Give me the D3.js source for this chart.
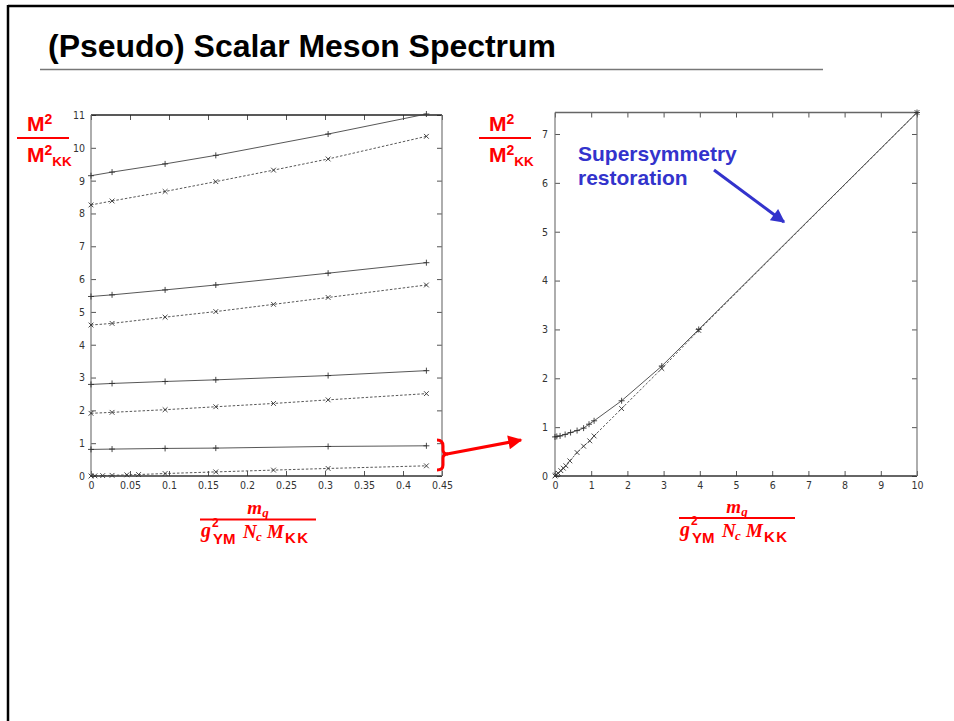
<!DOCTYPE html>
<html>
<head>
<meta charset="utf-8">
<script src="https://cdn.jsdelivr.net/npm/d3@7"></script>
<style>
  html, body { margin: 0; padding: 0; background: #fff; }
  svg { display: block; }
  .tick text { font-family: "Liberation Sans Narrow", "DejaVu Sans Condensed", "Liberation Sans", sans-serif; font-stretch: condensed; font-size: 10.5px; fill: #333; }
  .tick line { stroke: #555; stroke-width: 1; }
</style>
</head>
<body>
<svg id="chart" width="954" height="721"></svg>
<script>
// ---------------- DATA ----------------
const titleText = "(Pseudo) Scalar Meson Spectrum";

// Left panel (small quark mass)
const leftXTicks = [0, 0.05, 0.1, 0.15, 0.2, 0.25, 0.3, 0.35, 0.4, 0.45];
const leftYTicks = [0, 1, 2, 3, 4, 5, 6, 7, 8, 9, 10, 11];
const leftXSolid = [0, 0.027, 0.095, 0.16, 0.304, 0.43];
const leftXDotted = [0, 0.027, 0.095, 0.16, 0.234, 0.304, 0.43];
const leftXLow = [0, 0.005, 0.015, 0.027, 0.046, 0.061, 0.095, 0.16, 0.234, 0.304, 0.43];
const scalar1 = [9.15, 9.26, 9.51, 9.77, 10.42, 11.03];
const scalar2 = [5.47, 5.52, 5.67, 5.82, 6.18, 6.50];
const scalar3 = [2.79, 2.82, 2.88, 2.93, 3.06, 3.21];
const scalar4 = [0.81, 0.82, 0.84, 0.85, 0.90, 0.92];
const pseudo1 = [8.26, 8.38, 8.67, 8.97, 9.32, 9.66, 10.35];
const pseudo2 = [4.60, 4.65, 4.84, 5.01, 5.23, 5.44, 5.82];
const pseudo3 = [1.91, 1.94, 2.02, 2.11, 2.21, 2.32, 2.51];
const pseudo4 = [0, 0.005, 0.012, 0.02, 0.035, 0.045, 0.075, 0.125, 0.18, 0.23, 0.31];

// Right panel (large quark mass, lowest states)
const rightXTicks = [0, 1, 2, 3, 4, 5, 6, 7, 8, 9, 10];
const rightYTicks = [0, 1, 2, 3, 4, 5, 6, 7];
const rightYMax = 7.44;
const rightXScalar = [0, 0.05, 0.14, 0.28, 0.43, 0.61, 0.79, 0.94, 1.08, 1.84, 2.95, 3.97, 10];
const rightScalar  = [0.80, 0.81, 0.82, 0.85, 0.89, 0.93, 0.98, 1.06, 1.13, 1.54, 2.25, 3.0, 7.44];
const rightXPseudo = [0, 0.02, 0.09, 0.16, 0.23, 0.30, 0.41, 0.61, 0.79, 0.96, 1.08, 1.84, 2.95, 3.97, 10];
const rightPseudo  = [0, 0.02, 0.055, 0.11, 0.16, 0.21, 0.31, 0.48, 0.61, 0.72, 0.82, 1.38, 2.2, 2.98, 7.44];

const annotationLines = ["Supersymmetry", "restoration"];

// ---------------- DRAWING ----------------
const svg = d3.select("#chart");
const RED = "#ff0000", BLUE = "#3333cc", LINE = "#444";
const SANS = "'Liberation Sans', Arial, sans-serif";
const SERIF = "'Liberation Serif', 'Times New Roman', serif";

// slide frame
svg.append("line").attr("x1", 8).attr("y1", 6).attr("x2", 954).attr("y2", 6).attr("stroke", "#000").attr("stroke-width", 2.5);
svg.append("line").attr("x1", 8).attr("y1", 5).attr("x2", 8).attr("y2", 721).attr("stroke", "#000").attr("stroke-width", 2.5);

// title
svg.append("text").attr("x", 48).attr("y", 57).text(titleText)
  .attr("font-family", SANS).attr("font-weight", "bold").attr("font-size", 31)
  .attr("textLength", 508).attr("lengthAdjust", "spacingAndGlyphs").attr("fill", "#000");
svg.append("line").attr("x1", 40).attr("x2", 823).attr("y1", 69.5).attr("y2", 69.5).attr("stroke", "#777").attr("stroke-width", 1.5);

function panel(opts) {
  const x = d3.scaleLinear().domain(opts.xDomain).range([opts.x0, opts.x1]);
  const y = d3.scaleLinear().domain(opts.yDomain).range([opts.y0, opts.y1]);
  const g = svg.append("g");
  const T = 5;
  const ax = (axis, tx, ty, labels) => {
    const a = g.append("g").attr("transform", `translate(${tx},${ty})`).call(axis);
    a.select(".domain").remove();
    if (!labels) a.selectAll("text").remove();
    return a;
  };
  ax(d3.axisBottom(x).tickValues(opts.xTicks).tickSizeInner(-T).tickSizeOuter(0).tickPadding(6).tickFormat(d => String(d)), 0, opts.y0, true);
  ax(d3.axisTop(x).tickValues(opts.xTicks).tickSizeInner(-T).tickSizeOuter(0), 0, opts.y1, false);
  ax(d3.axisLeft(y).tickValues(opts.yTicks).tickSizeInner(-T).tickSizeOuter(0).tickPadding(opts.yPad).tickFormat(d => String(d)), opts.x0, 0, true);
  ax(d3.axisRight(y).tickValues(opts.yTicks).tickSizeInner(-T).tickSizeOuter(0), opts.x1, 0, false);
  // frame
  g.append("line").attr("x1", opts.x0).attr("x2", opts.x1).attr("y1", opts.y1).attr("y2", opts.y1).attr("stroke", opts.topColor).attr("stroke-width", 1.3);
  g.append("line").attr("x1", opts.x0).attr("x2", opts.x1).attr("y1", opts.y0).attr("y2", opts.y0).attr("stroke", "#333").attr("stroke-width", 1.3);
  g.append("line").attr("x1", opts.x0).attr("x2", opts.x0).attr("y1", opts.y0).attr("y2", opts.y1).attr("stroke", "#777").attr("stroke-width", 1.2);
  g.append("line").attr("x1", opts.x1).attr("x2", opts.x1).attr("y1", opts.y0).attr("y2", opts.y1).attr("stroke", "#777").attr("stroke-width", 1.2);

  const line = d3.line().x(d => x(d[0])).y(d => y(d[1]));
  opts.series.forEach(s => {
    const pts = s.xs.map((v, i) => [v, s.ys[i]]);
    g.append("path").attr("d", line(pts)).attr("fill", "none").attr("stroke", LINE)
      .attr("stroke-width", 0.9).attr("stroke-dasharray", s.dashed ? "2.5,1.8" : null);
    const mk = s.dashed ? "M-2.4,-2.4L2.4,2.4M-2.4,2.4L2.4,-2.4" : "M-3,0H3M0,-3V3";
    g.selectAll(null).data(pts).enter().append("path")
      .attr("transform", d => `translate(${x(d[0])},${y(d[1])})`)
      .attr("d", mk).attr("stroke", "#333").attr("stroke-width", 0.9).attr("fill", "none");
  });
  return { x, y };
}

panel({
  x0: 91, x1: 442, y0: 476, y1: 115,
  xDomain: [0, 0.45], yDomain: [0, 11],
  xTicks: leftXTicks, yTicks: leftYTicks, yPad: 6, topColor: "#222",
  series: [
    { xs: leftXSolid, ys: scalar1, dashed: false },
    { xs: leftXSolid, ys: scalar2, dashed: false },
    { xs: leftXSolid, ys: scalar3, dashed: false },
    { xs: leftXSolid, ys: scalar4, dashed: false },
    { xs: leftXDotted, ys: pseudo1, dashed: true },
    { xs: leftXDotted, ys: pseudo2, dashed: true },
    { xs: leftXDotted, ys: pseudo3, dashed: true },
    { xs: leftXLow, ys: pseudo4, dashed: true }
  ]
});

panel({
  x0: 555, x1: 917, y0: 476, y1: 112.5,
  xDomain: [0, 10], yDomain: [0, rightYMax],
  xTicks: rightXTicks, yTicks: rightYTicks, yPad: 7, topColor: "#666",
  series: [
    { xs: rightXScalar, ys: rightScalar, dashed: false },
    { xs: rightXPseudo, ys: rightPseudo, dashed: true }
  ]
});

// red y-axis fraction labels
function massRatio(dx) {
  const g = svg.append("g").attr("transform", `translate(${dx},0)`).attr("fill", RED)
    .attr("font-family", SANS).attr("font-weight", "bold");
  const t1 = g.append("text").attr("x", 27).attr("y", 131).attr("font-size", 21);
  t1.append("tspan").text("M");
  t1.append("tspan").attr("font-size", 14).attr("dy", -7).text("2");
  g.append("line").attr("x1", 17).attr("x2", 69).attr("y1", 138).attr("y2", 138).attr("stroke", RED).attr("stroke-width", 2);
  const t2 = g.append("text").attr("x", 27).attr("y", 162).attr("font-size", 21);
  t2.append("tspan").text("M");
  t2.append("tspan").attr("font-size", 14).attr("dy", -7).text("2");
  t2.append("tspan").attr("font-size", 13.5).attr("dy", 11).text("KK");
}
massRatio(0);
massRatio(462);

// red x-axis fraction labels
function quarkMass(dx, dy) {
  const g = svg.append("g").attr("transform", `translate(${dx},${dy})`).attr("fill", RED);
  const num = g.append("text").attr("x", 258).attr("y", 514).attr("text-anchor", "middle")
    .attr("font-family", SERIF).attr("font-style", "italic").attr("font-weight", "bold").attr("font-size", 19);
  num.append("tspan").text("m");
  num.append("tspan").attr("font-size", 13).attr("dy", 3).text("q");
  g.append("line").attr("x1", 200).attr("x2", 316).attr("y1", 519.5).attr("y2", 519.5).attr("stroke", RED).attr("stroke-width", 2);
  const it = (x, y, s, txt) => g.append("text").attr("x", x).attr("y", y).attr("font-family", SERIF)
    .attr("font-style", "italic").attr("font-weight", "bold").attr("font-size", s).text(txt);
  const sf = (x, y, s, txt) => g.append("text").attr("x", x).attr("y", y).attr("font-family", SANS)
    .attr("font-weight", "bold").attr("font-size", s).text(txt);
  it(201, 537, 20, "g");
  sf(212, 526.5, 12, "2");
  sf(213, 544, 15, "YM");
  it(243, 538, 19, "N");
  it(256, 541, 13, "c");
  it(267, 538, 19, "M");
  sf(285, 543, 15, "KK").attr("letter-spacing", 1.5);
}
quarkMass(0, 0);
quarkMass(479, -1.5);

// blue annotation
const ann = svg.append("text").attr("fill", BLUE).attr("font-family", SANS).attr("font-weight", "bold").attr("font-size", 21);
annotationLines.forEach((l, i) => ann.append("tspan").attr("x", 578).attr("y", 161 + i * 24).text(l));
const defs = svg.append("defs");
defs.append("marker").attr("id", "blueHead").attr("viewBox", "0 0 10 10").attr("refX", 9).attr("refY", 5)
  .attr("markerWidth", 5).attr("markerHeight", 4.6).attr("markerUnits", "strokeWidth").attr("orient", "auto")
  .append("path").attr("d", "M0,0L10,5L0,10Z").attr("fill", BLUE);
svg.append("line").attr("x1", 714).attr("y1", 170).attr("x2", 784).attr("y2", 222)
  .attr("stroke", BLUE).attr("stroke-width", 3).attr("marker-end", "url(#blueHead)");

// red bracket + arrow
svg.append("path").attr("d", "M437,440 Q443,440 443,446 L443,450 Q443,454 448,454 Q443,454 443,458 L443,465 Q443,470 437,470")
  .attr("fill", "none").attr("stroke", RED).attr("stroke-width", 3);
defs.append("marker").attr("id", "redHead").attr("viewBox", "0 0 10 10").attr("refX", 9).attr("refY", 5)
  .attr("markerWidth", 4.6).attr("markerHeight", 4.4).attr("markerUnits", "strokeWidth").attr("orient", "auto")
  .append("path").attr("d", "M0,0L10,5L0,10Z").attr("fill", RED);
svg.append("line").attr("x1", 447).attr("y1", 454).attr("x2", 521).attr("y2", 440)
  .attr("stroke", RED).attr("stroke-width", 3.2).attr("marker-end", "url(#redHead)");
</script>
</body>
</html>
